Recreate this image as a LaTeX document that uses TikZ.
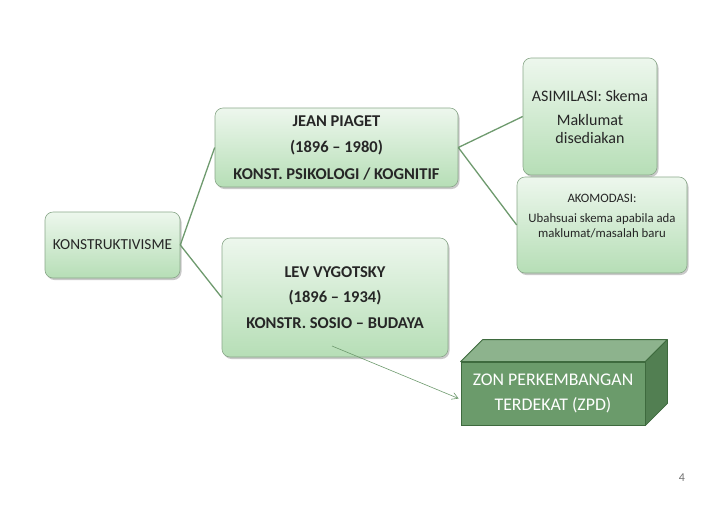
\documentclass[tikz,border=0pt]{standalone}
\usepackage{fontspec}
\setmainfont{Carlito}
\usetikzlibrary{shadows,arrows.meta}
\definecolor{boxtop}{HTML}{EDF7ED}
\definecolor{boxbot}{HTML}{B6DEB6}
\definecolor{boxline}{HTML}{8AA88A}
\definecolor{conn}{HTML}{6E9A6E}
\definecolor{cubefront}{HTML}{6B9B6B}
\definecolor{cubetop}{HTML}{8DB38D}
\definecolor{cubeside}{HTML}{527F52}
\definecolor{cubeline}{HTML}{3E6A3E}
\tikzset{
  gbox/.style={draw=boxline, line width=0.6pt, rounded corners=8pt,
    top color=boxtop, bottom color=boxbot, align=center, inner sep=0pt,
    text=black!85,
    drop shadow={shadow xshift=1.5pt, shadow yshift=-2pt, opacity=0.35, fill=black!60}},
  link/.style={draw=conn, line width=1.3pt},
  txt/.style={align=center, inner sep=0pt, text=black!85}
}
\begin{document}
\begin{tikzpicture}[x=1pt,y=-1pt]
\useasboundingbox[fill=white] (0,0) rectangle (728,504);
% boxes
\node[gbox, minimum width=135pt, minimum height=66pt, font=\fontsize{15.3}{19}\selectfont] (konst) at (112.5,245)
  {KONSTRUKTIVISME};
\node[gbox, minimum width=243pt, minimum height=79pt, font=\fontsize{16.5}{26.5}\selectfont\bfseries] (piaget) at (336.5,147.5)
  {JEAN PIAGET\\(1896 – 1980)\\KONST. PSIKOLOGI / KOGNITIF};
\node[gbox, minimum width=134pt, minimum height=117pt, font=\fontsize{16}{18}\selectfont] (asim) at (590,116.5)
  {ASIMILASI: Skema\\[6pt]Maklumat\\disediakan};
\node[gbox, minimum width=170pt, minimum height=96pt] (akom) at (602,225) {};
\node[txt, font=\fontsize{12.8}{15}\selectfont] (akomtxt) at (602,216)
  {AKOMODASI:\\[5pt]Ubahsuai skema apabila ada\\maklumat/masalah baru};
\node[gbox, minimum width=226pt, minimum height=119pt, font=\fontsize{16.5}{25.5}\selectfont\bfseries] (vyg) at (335,297.5)
  {LEV VYGOTSKY\\(1896 – 1934)\\KONSTR. SOSIO – BUDAYA};
% cube
\node[draw=cubeline, line width=0.8pt, fill=cubefront, minimum width=184pt, minimum height=63pt,
  inner sep=0pt, align=center, text=white, font=\fontsize{17.8}{25}\selectfont] (zpd) at (553,393.5)
  {ZON PERKEMBANGAN\\TERDEKAT (ZPD)};
\coordinate (ctl) at ([shift={(22,-22)}]zpd.north west);
\coordinate (ctr) at ([shift={(22,-22)}]zpd.north east);
\coordinate (cbr) at ([shift={(22,-22)}]zpd.south east);
\draw[draw=cubeline, line width=0.8pt, fill=cubetop, line join=round]
  (zpd.north west) -- (ctl) -- (ctr) -- (zpd.north east) -- cycle;
\draw[draw=cubeline, line width=0.8pt, fill=cubeside, line join=round]
  (zpd.north east) -- (ctr) -- (cbr) -- (zpd.south east) -- cycle;
% connectors
\draw[link] (konst.east) -- (piaget.west);
\draw[link] (konst.east) -- (vyg.west);
\draw[link] (piaget.east) -- (asim.west);
\draw[link] (piaget.east) -- (akom.west);
\coordinate (astart) at (332,346);
\coordinate (aend) at ([shift={(-2pt,-5pt)}]zpd.west);
\draw[draw=conn, line width=0.6pt, -{Straight Barb[length=6pt,width=7pt]}] (astart) -- (aend);
% page number
\node[txt, text=black!55, font=\fontsize{12}{14}\selectfont] (pg) at (682,478) {4};
\end{tikzpicture}
\end{document}
